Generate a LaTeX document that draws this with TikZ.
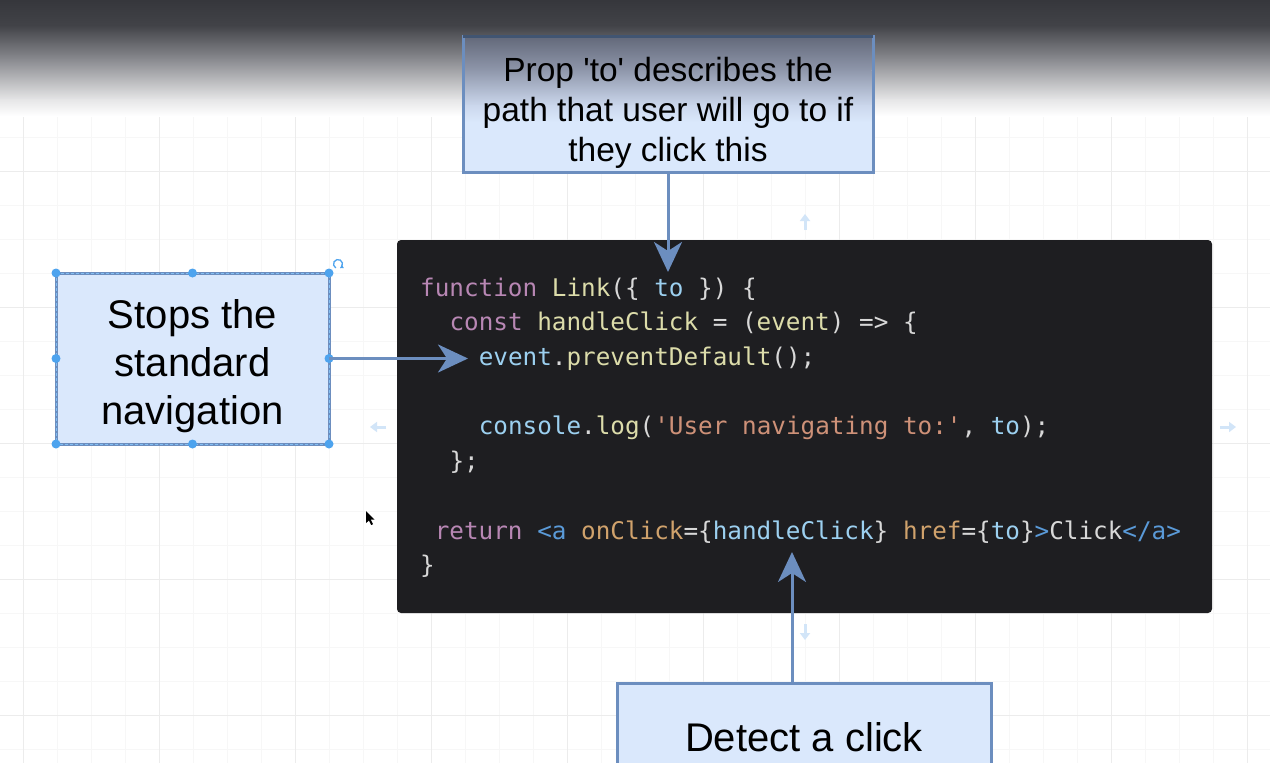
\documentclass[tikz,border=0pt]{standalone}
\usepackage{fontspec}
\setmainfont{Liberation Sans}[Ligatures=TeXOff]
\newfontfamily\codefont{DejaVu Sans Mono}[Ligatures=TeXOff]
\usetikzlibrary{arrows.meta}
\definecolor{boxfill}{HTML}{DAE8FC}
\definecolor{boxline}{HTML}{6C8EBF}
\definecolor{codebg}{HTML}{1E1E21}
\definecolor{ckw}{HTML}{B887B4}
\definecolor{cfn}{HTML}{DCDCAA}
\definecolor{cvar}{HTML}{9CD0F0}
\definecolor{cpun}{HTML}{D8D8D8}
\definecolor{cstr}{HTML}{CE9178}
\definecolor{ctag}{HTML}{5A9AD8}
\definecolor{cattr}{HTML}{D0A26C}
\definecolor{handle}{HTML}{4DA3EE}
\definecolor{hovercol}{HTML}{D2E5F8}
\definecolor{gridminor}{HTML}{F7F7F7}
\definecolor{gridmajor}{HTML}{ECECEC}
\definecolor{sA}{HTML}{36373C}
\definecolor{sB}{HTML}{424348}
\definecolor{sC}{HTML}{8A8B90}
\definecolor{sD}{HTML}{E6E6E7}
\definecolor{bA}{HTML}{646A7B}
\definecolor{bB}{HTML}{8F97AB}
\definecolor{bC}{HTML}{CBD7EC}
\tikzset{
  box/.style={draw=boxline, fill=boxfill, line width=3pt, inner sep=0pt, outer sep=0pt},
  boxtext/.style={align=center, inner sep=0pt},
  conn/.style={draw=boxline, line width=3pt, -{Stealth[length=30pt,width=28pt,inset=9pt]}},
  codeline/.style={anchor=base west, inner sep=0pt, font=\codefont\fontsize{24.3}{30}\selectfont, text=cpun},
  hov/.style={draw=hovercol, line width=3pt, -{Triangle[length=7pt,width=10pt]}},
  hdl/.style={circle, fill=handle, inner sep=0pt, minimum size=9pt},
}
\begin{document}
\begin{tikzpicture}[x=1pt,y=-1pt]
\useasboundingbox (0,0) rectangle (1270,763);
\clip (0,0) rectangle (1270,763);
\fill[white] (0,0) rectangle (1270,763);
% grid
\foreach \i in {0,...,37} {\draw[gridminor, line width=1pt] ({23+34*\i},0) -- ({23+34*\i},763);}
\foreach \i in {0,...,22} {\draw[gridminor, line width=1pt] (0,{1+34*\i}) -- (1270,{1+34*\i});}
\foreach \i in {0,...,9} {\draw[gridmajor, line width=1pt] ({23+136*\i},0) -- ({23+136*\i},763);}
\foreach \i in {0,...,5} {\draw[gridmajor, line width=1pt] (0,{35+136*\i}) -- (1270,{35+136*\i});}

% top darkening of the background
\shade[top color=sA, bottom color=sB] (0,0) rectangle (1270,26);
\shade[top color=sB, bottom color=sC] (0,25.5) rectangle (1270,60);
\shade[top color=sC, bottom color=sD] (0,59.5) rectangle (1270,100);
\shade[top color=sD, bottom color=white] (0,99.5) rectangle (1270,116);

% code block
\node[fill=codebg, rounded corners=4pt, minimum width=815pt, minimum height=373pt, inner sep=0pt] (code) at (804.5,426.5) {};
\def\cw{14.65}
\node[codeline] (l1) at (420,296) {\textcolor{ckw}{function} \textcolor{cfn}{Link}(\{ \textcolor{cvar}{to} \}) \{};
\node[codeline] (l2) at ({420+2*\cw},330.7) {\textcolor{ckw}{const} \textcolor{cfn}{handleClick} = (\textcolor{cfn}{event}) => \{};
\node[codeline] (l3) at ({420+4*\cw},365.4) {\textcolor{cvar}{event}.\textcolor{cfn}{preventDefault}();};
\node[codeline] (l4) at ({420+4*\cw},434.8) {\textcolor{cvar}{console}.\textcolor{cfn}{log}(\textcolor{cstr}{'User navigating to:'}, \textcolor{cvar}{to});};
\node[codeline] (l5) at ({420+2*\cw},469.5) {\};};
\node[codeline] (l6) at ({420+1*\cw},539) {\textcolor{ckw}{return} \textcolor{ctag}{<a} \textcolor{cattr}{onClick}=\{\textcolor{cvar}{handleClick}\} \textcolor{cattr}{href}=\{\textcolor{cvar}{to}\}\textcolor{ctag}{>}Click\textcolor{ctag}{</a>}};
\node[codeline] (l7) at (420,573.6) {\}};

% top box (partly in the darkened band)
\node[box, minimum width=410pt, minimum height=136pt] (tb) at (668,104) {};
\shade[top color=bA, bottom color=bB] (464.5,37.5) rectangle (871.5,70.5);
\shade[top color=bB, bottom color=bC] (464.5,70) rectangle (871.5,105.5);
\shade[top color=bC, bottom color=boxfill] (464.5,105) rectangle (871.5,122);
\draw[boxline, line width=3pt] (tb.north west) rectangle (tb.south east);
\draw[boxline!60!black, line width=3pt] (tb.north west) -- (tb.north east);
\node[boxtext, font=\fontsize{33.5}{40}\selectfont] (tbt) at ([yshift=-9pt]tb.center) {Prop 'to' describes the\\path that user will go to if\\they click this};

% left and bottom boxes
\node[box, minimum width=273pt, minimum height=171pt] (lb) at (192.5,358.5) {};
\node[boxtext, font=\fontsize{40}{48}\selectfont] (lbt) at ([yshift=-8pt]lb.center) {Stops the\\standard\\navigation};
\node[box, minimum width=374pt, minimum height=108pt] (bb) at (804,737) {};
\node[boxtext, font=\fontsize{40}{48}\selectfont] (bbt) at (bb.center) {Detect a click};

% selection overlay on left box
\draw[handle!70!white, line width=1pt, dash pattern=on 3pt off 2pt] (lb.north west) rectangle (lb.south east);
\foreach \a in {north west,north,north east,east,south east,south,south west,west} {\node[hdl] at (lb.\a) {};}
\coordinate (rot) at (338,264);
\draw[handle, line width=1.3pt, -{Triangle[length=3pt,width=4pt]}] ([shift={(120:4.5)}]rot) arc[start angle=120, end angle=420, radius=4.5];

% connectors
\coordinate (ttip) at (668,272);
\coordinate (ltip) at (468,358.5);
\coordinate (btip) at (792,552);
\draw[conn] (tb.south) -- (ttip);
\draw[conn] (lb.east) -- (ltip);
\draw[conn] (btip |- bb.north) -- (btip);

% hover arrows
\coordinate (hu) at (805,222);
\coordinate (hl) at (378,427);
\coordinate (hr) at (1228,427);
\coordinate (hd) at (805,632);
\draw[hov] ([yshift=-8pt]hu) -- ([yshift=8pt]hu);
\draw[hov] ([xshift=8pt]hl) -- ([xshift=-8pt]hl);
\draw[hov] ([xshift=-8pt]hr) -- ([xshift=8pt]hr);
\draw[hov] ([yshift=8pt]hd) -- ([yshift=-8pt]hd);

% mouse cursor
\fill[black] (366,511) -- (366,523) -- (369,520.5) -- (371.2,525) -- (373,524.2) -- (370.8,519.7) -- (374.5,519.5) -- cycle;
\end{tikzpicture}
\end{document}
